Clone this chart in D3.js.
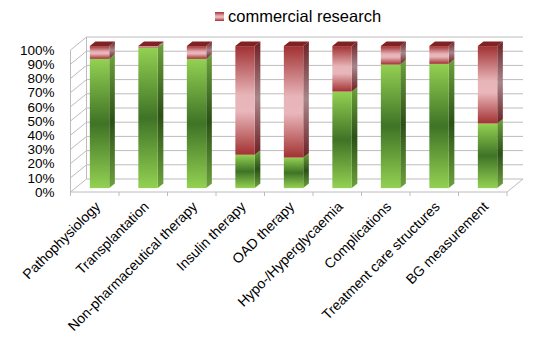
<!DOCTYPE html>
<html>
<head>
<meta charset="utf-8">
<script src="https://cdn.jsdelivr.net/npm/d3@7"></script>
<style>
  body { margin: 0; background: #fff; }
  text { font-family: "Liberation Sans", Arial, sans-serif; fill: #000; }
</style>
</head>
<body>
<svg width="544" height="354"></svg>
<script>
const categories = [
  'Pathophysiology', 'Transplantation', 'Non-pharmaceutical therapy',
  'Insulin therapy', 'OAD therapy', 'Hypo-/Hyperglycaemia',
  'Complications', 'Treatment care structures', 'BG measurement'
];
// green share (non-commercial) and commercial research share, in %
const nonCommercial = [91, 99, 91, 23.5, 21.5, 68, 87, 87.5, 45.5];
const commercial = nonCommercial.map(v => 100 - v);
const yTicks = [0, 10, 20, 30, 40, 50, 60, 70, 80, 90, 100];
const legendLabel = 'commercial research';

const svg = d3.select('svg');
const LEFT = 70.5, RIGHT = 507, BOTTOM = 192, TOP = 50;
const DEPTH = { X: 16, Y: -13 };
const BAR_FRONT = 0.3, BAR_BACK = 0.65;

const x = d3.scaleBand().domain(categories).range([LEFT, RIGHT])
  .paddingInner(0.6).paddingOuter(0.3);
const y = d3.scaleLinear().domain([0, 100]).range([BOTTOM, TOP]);

// gradients
const defs = svg.append('defs');
function grad(id, stops) {
  const g = defs.append('linearGradient').attr('id', id)
    .attr('x1', 0).attr('y1', 0).attr('x2', 0).attr('y2', 1);
  stops.forEach(s => g.append('stop').attr('offset', s[0]).attr('stop-color', s[1]));
}
grad('greenFront', [[0, '#93d152'], [0.5, '#3f7326'], [1, '#93d152']]);
grad('greenSide', [[0, '#6da23b'], [0.5, '#2b5117'], [1, '#6da23b']]);
grad('pinkFront', [[0, '#a13032'], [0.45, '#e7b4b8'], [0.6, '#e9b7bb'], [1, '#a23131']]);
grad('pinkSide', [[0, '#6c2023'], [0.5, '#a9868b'], [1, '#6c2023']]);

const grid = svg.append('g').attr('stroke', '#bcbcbc').attr('stroke-width', 1).attr('fill', 'none');

// back wall gridlines + side wall diagonals
yTicks.forEach(t => {
  const yy = y(t);
  grid.append('line')
    .attr('x1', LEFT + DEPTH.X).attr('x2', RIGHT + DEPTH.X)
    .attr('y1', yy + DEPTH.Y).attr('y2', yy + DEPTH.Y);
  grid.append('line')
    .attr('x1', LEFT).attr('x2', LEFT + DEPTH.X)
    .attr('y1', yy).attr('y2', yy + DEPTH.Y);
});
grid.append('line').attr('x1', LEFT + DEPTH.X).attr('x2', LEFT + DEPTH.X)
  .attr('y1', y(0) + DEPTH.Y).attr('y2', y(100) + DEPTH.Y);
grid.append('line').attr('x1', LEFT).attr('x2', LEFT)
  .attr('y1', y(0)).attr('y2', y(100));
// floor
grid.append('line').attr('x1', LEFT).attr('x2', RIGHT).attr('y1', BOTTOM).attr('y2', BOTTOM);
grid.append('line').attr('x1', RIGHT).attr('x2', RIGHT + DEPTH.X)
  .attr('y1', BOTTOM).attr('y2', BOTTOM + DEPTH.Y);
const step = x.step();
categories.concat([null]).forEach((c, i) => {
  const xx = LEFT + i * step;
  grid.append('line').attr('x1', xx).attr('x2', xx).attr('y1', BOTTOM).attr('y2', BOTTOM + 4);
});

// y axis labels
svg.append('g')
  .attr('transform', `translate(${LEFT},0)`)
  .call(d3.axisLeft(y).tickValues(yTicks).tickFormat(d => d + '%').tickSize(0).tickPadding(16))
  .call(g => g.select('.domain').remove())
  .selectAll('text')
  .style('font-size', '13.5px')
  .style('font-family', '"Liberation Sans", Arial, sans-serif')
  .attr('fill', '#000');

// 3D bars
const fdx = DEPTH.X * BAR_FRONT, fdy = DEPTH.Y * BAR_FRONT;
const ddx = DEPTH.X * (BAR_BACK - BAR_FRONT), ddy = DEPTH.Y * (BAR_BACK - BAR_FRONT);
const bw = x.bandwidth();
const bars = svg.append('g');

categories.forEach((c, i) => {
  const x0 = x(c) + fdx;
  const segs = [
    { lo: 0, hi: nonCommercial[i], front: 'greenFront', side: 'greenSide' },
    { lo: nonCommercial[i], hi: nonCommercial[i] + commercial[i], front: 'pinkFront', side: 'pinkSide' }
  ];
  segs.forEach(s => {
    if (s.hi - s.lo <= 0) return;
    const yTop = y(s.hi) + fdy, yBot = y(s.lo) + fdy;
    const xr = x0 + bw;
    bars.append('polygon')
      .attr('points', [[xr, yBot], [xr + ddx, yBot + ddy], [xr + ddx, yTop + ddy], [xr, yTop]].join(' '))
      .attr('fill', `url(#${s.side})`);
    bars.append('rect')
      .attr('x', x0).attr('y', yTop).attr('width', bw).attr('height', yBot - yTop)
      .attr('fill', `url(#${s.front})`);
  });
  const yt = y(100) + fdy;
  bars.append('polygon')
    .attr('points', [[x0, yt], [x0 + ddx, yt + ddy], [x0 + bw + ddx, yt + ddy], [x0 + bw, yt]].join(' '))
    .attr('fill', '#7e2223');
});

// x labels
svg.append('g').selectAll('text')
  .data(categories)
  .join('text')
  .attr('transform', d => `translate(${x(d) + bw / 2 + 3},${BOTTOM + 12}) rotate(-45)`)
  .attr('text-anchor', 'end')
  .attr('dy', '0.35em')
  .style('font-size', '14px')
  .text(d => d);

// legend
const legend = svg.append('g').attr('transform', 'translate(215,12)');
legend.append('rect').attr('width', 9).attr('height', 9).attr('fill', 'url(#pinkFront)');
legend.append('text').attr('x', 13).attr('y', 9.5)
  .style('font-size', '16.5px').text(legendLabel);
</script>
</body>
</html>
